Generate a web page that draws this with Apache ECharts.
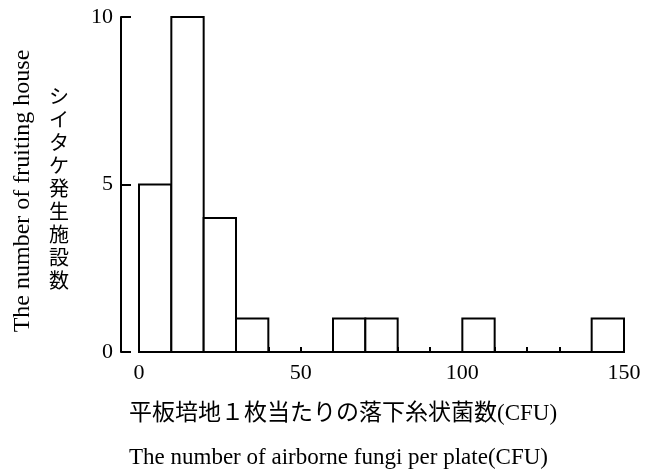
<!DOCTYPE html>
<html><head><meta charset="utf-8">
<script src="https://cdn.jsdelivr.net/npm/echarts@6/dist/echarts.min.js"></script>
<style>html,body{margin:0;padding:0;background:#fff}#c{width:660px;height:473px}</style>
</head><body><div id="c"></div>
<script>
var binStarts = [0, 10, 20, 30, 40, 50, 60, 70, 80, 90, 100, 110, 120, 130, 140];
var binWidth = 10;
var counts = [5, 10, 4, 1, 0, 0, 1, 1, 0, 0, 1, 0, 0, 0, 1];
var xTickLabels = [0, 50, 100, 150];
var yTickLabels = [0, 5, 10];
var xTitleJa = '平板培地１枚当たりの落下糸状菌数(CFU)';
var xTitleEn = 'The number of airborne fungi per plate(CFU)';
var yTitleJa = 'シイタケ発生施設数';
var yTitleEn = 'The number of fruiting house';

var data = binStarts.map(function (s, i) { return [s, s + binWidth, counts[i]]; }).filter(function (d) { return d[2] > 0; });
var serif = '"Liberation Serif", "DejaVu Serif", serif';
var jaFont = '"Liberation Serif", "Noto Sans CJK JP", sans-serif';
var chart = echarts.init(document.getElementById('c'));
chart.setOption({
  animation: false,
  backgroundColor: '#fff',
  grid: { left: 139, right: 36, top: 17, bottom: 121 },
  xAxis: {
    type: 'value', min: 0, max: 150, interval: 10,
    axisLine: { show: true, onZero: false, lineStyle: { color: '#000', width: 2 } },
    axisTick: { show: true, inside: true, length: 5, lineStyle: { color: '#000', width: 2 } },
    splitLine: { show: false },
    axisLabel: {
      color: '#000', fontFamily: serif, fontSize: 22, margin: 10,
      formatter: function (v) { return xTickLabels.indexOf(v) >= 0 ? String(v) : ''; }
    }
  },
  yAxis: {
    type: 'value', min: 0, max: 10, interval: 5, offset: 18,
    axisLine: { show: true, onZero: false, lineStyle: { color: '#000', width: 2 } },
    axisTick: { show: true, inside: true, length: 10, lineStyle: { color: '#000', width: 2 } },
    splitLine: { show: false },
    axisLabel: {
      color: '#000', fontFamily: serif, fontSize: 22, margin: 8,
      formatter: function (v) { return yTickLabels.indexOf(v) >= 0 ? String(v) : ''; }
    }
  },
  series: [{
    type: 'custom',
    data: data,
    encode: { x: [0, 1], y: 2 },
    renderItem: function (params, api) {
      var p0 = api.coord([api.value(0), api.value(2)]);
      var p1 = api.coord([api.value(1), 0]);
      return {
        type: 'rect',
        shape: { x: p0[0], y: p0[1], width: p1[0] - p0[0], height: p1[1] - p0[1] },
        style: { fill: '#fff', stroke: '#000', lineWidth: 2 }
      };
    }
  }],
  graphic: [
    { type: 'text', x: 23, y: 191, rotation: Math.PI / 2,
      style: { text: yTitleEn, fill: '#000', font: '24px ' + serif, align: 'center', verticalAlign: 'middle' } },
    { type: 'text', x: 59, y: 188,
      style: { text: yTitleJa.split('').join('\n'), fill: '#000', font: '20px "Noto Sans CJK JP"', lineHeight: 23, align: 'center', verticalAlign: 'middle' } },
    { type: 'text', x: 129, y: 414,
      style: { text: xTitleJa, fill: '#000', font: '23px ' + jaFont, align: 'left', verticalAlign: 'middle' } },
    { type: 'text', x: 129, y: 458,
      style: { text: xTitleEn, fill: '#000', font: '23px ' + serif, align: 'left', verticalAlign: 'middle' } }
  ]
});
</script></body></html>
